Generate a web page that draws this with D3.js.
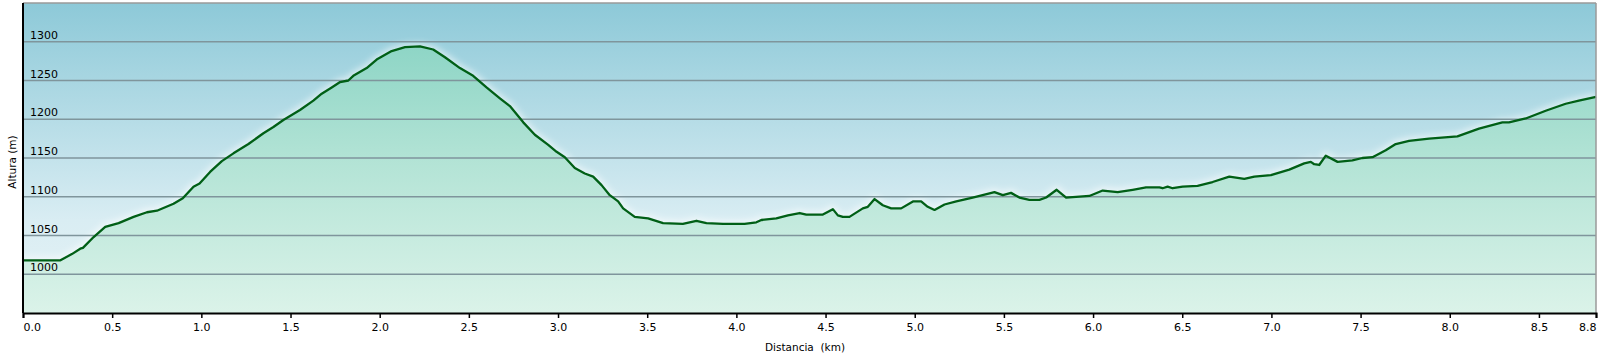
<!DOCTYPE html>
<html>
<head>
<meta charset="utf-8">
<script src="https://cdn.jsdelivr.net/npm/d3@7"></script>
<style>
  html, body { margin: 0; padding: 0; background: #fff; }
  svg { display: block; font-family: "DejaVu Sans", Verdana, sans-serif; }
</style>
</head>
<body>
<div id="chart"></div>
<script>
"use strict";

// perfil: distancia (km) / altura (m)
var distancia = [
  0, 0.21, 0.274, 0.321, 0.336, 0.396, 0.461, 0.536, 0.62, 0.695, 0.751, 0.844, 0.896, 0.956, 0.99,
  1.049, 1.115, 1.18, 1.264, 1.348, 1.404, 1.46, 1.553, 1.628, 1.675, 1.731, 1.778, 1.824, 1.852, 1.927, 1.983,
  2.067, 2.142, 2.226, 2.3, 2.366, 2.45, 2.524, 2.599, 2.674, 2.73, 2.805, 2.87, 2.945, 2.992,
  3.038, 3.094, 3.15, 3.197, 3.244, 3.29, 3.337, 3.365, 3.43, 3.505, 3.589, 3.70, 3.776, 3.832, 3.925,
  4.046, 4.112, 4.14, 4.224, 4.289, 4.355, 4.392, 4.485, 4.541, 4.569, 4.597, 4.634, 4.709, 4.737, 4.775, 4.821, 4.868, 4.924, 4.99,
  5.036, 5.073, 5.111, 5.167, 5.233, 5.325, 5.447, 5.494, 5.54, 5.587, 5.643, 5.699, 5.737, 5.796, 5.849, 5.979,
  6.054, 6.138, 6.222, 6.297, 6.372, 6.39, 6.418, 6.446, 6.502, 6.586, 6.67, 6.764, 6.848, 6.904, 6.997,
  7.1, 7.184, 7.221, 7.24, 7.268, 7.305, 7.371, 7.454, 7.51, 7.567, 7.641, 7.697, 7.772, 7.884,
  8.043, 8.164, 8.295, 8.332, 8.426, 8.538, 8.65, 8.724, 8.82
];
var altura = [
  1018, 1018, 1026, 1033, 1034, 1048, 1061, 1066, 1074, 1080, 1082, 1091, 1098, 1113, 1117,
  1132, 1146, 1156, 1168, 1182, 1190, 1199, 1212, 1224, 1233, 1241, 1248, 1250, 1256, 1266, 1277,
  1288, 1293, 1294, 1290, 1280, 1266, 1256, 1241, 1227, 1217, 1196, 1180, 1167, 1158,
  1151, 1137, 1130, 1126, 1115, 1102, 1094, 1085, 1074, 1072, 1066, 1065, 1069, 1066, 1065,
  1065, 1067, 1070, 1072, 1076, 1079, 1077, 1077, 1084, 1076, 1074, 1074, 1085, 1087, 1097, 1089, 1085, 1085, 1094,
  1094, 1087, 1083, 1090, 1094, 1099, 1106, 1102, 1105, 1099, 1096, 1096, 1099, 1109, 1099, 1101,
  1108, 1106, 1109, 1112, 1112, 1111, 1113, 1111, 1113, 1114, 1119, 1126, 1123, 1126, 1128,
  1135, 1143, 1145, 1142, 1141, 1153, 1145, 1147, 1150, 1151, 1160, 1168, 1172, 1175,
  1178, 1188, 1196, 1196, 1201, 1211, 1220, 1224, 1229
];
var distTicks = [0, 0.5, 1, 1.5, 2, 2.5, 3, 3.5, 4, 4.5, 5, 5.5, 6, 6.5, 7, 7.5, 8, 8.5, 8.82];
var altTicks = [1000, 1050, 1100, 1150, 1200, 1250, 1300];
var altDomain = [950, 1350];

var width = 1599;
var height = 360;
var margin = {top: 3, right: 3, bottom: 47, left: 23};
var innerW = width - margin.left - margin.right;
var innerH = height - margin.top - margin.bottom;

var data = distancia.map(function(d, i) { return {km: d, m: altura[i]}; });

var x = d3.scaleLinear().domain([0, d3.max(distancia)]).range([0, innerW]);
var y = d3.scaleLinear().domain(altDomain).range([innerH, 0]);

var svg = d3.select("#chart").append("svg")
  .attr("width", width)
  .attr("height", height);

var defs = svg.append("defs");

var sky = defs.append("linearGradient")
  .attr("id", "sky").attr("x1", 0).attr("y1", 0).attr("x2", 0).attr("y2", 1);
sky.append("stop").attr("offset", "0%").attr("stop-color", "#8dc9d8");
sky.append("stop").attr("offset", "70%").attr("stop-color", "#d9edf3");
sky.append("stop").attr("offset", "100%").attr("stop-color", "#e6f3f5");

var ground = defs.append("linearGradient")
  .attr("id", "ground").attr("gradientUnits", "userSpaceOnUse")
  .attr("x1", 0).attr("y1", 0).attr("x2", 0).attr("y2", innerH);
ground.append("stop").attr("offset", "0%").attr("stop-color", "#80d0c0");
ground.append("stop").attr("offset", "50%").attr("stop-color", "#b2e3d5");
ground.append("stop").attr("offset", "100%").attr("stop-color", "#dbf3e9");

var glow = defs.append("filter").attr("id", "glow")
  .attr("x", "-5%").attr("y", "-20%").attr("width", "110%").attr("height", "140%");
glow.append("feGaussianBlur").attr("stdDeviation", 3);

var g = svg.append("g")
  .attr("transform", "translate(" + margin.left + "," + margin.top + ")");

g.append("rect")
  .attr("width", innerW).attr("height", innerH)
  .attr("fill", "url(#sky)");

var area = d3.area()
  .x(function(d) { return x(d.km); })
  .y0(innerH)
  .y1(function(d) { return y(d.m); });

var line = d3.line()
  .x(function(d) { return x(d.km); })
  .y(function(d) { return y(d.m); });

g.append("path")
  .datum(data)
  .attr("d", line)
  .attr("fill", "none")
  .attr("stroke", "#ffffff")
  .attr("stroke-opacity", 0.6)
  .attr("stroke-width", 7)
  .attr("filter", "url(#glow)");

g.append("path")
  .datum(data)
  .attr("d", area)
  .attr("fill", "url(#ground)");

// rejilla
g.append("g")
  .selectAll("line")
  .data(altTicks)
  .enter().append("line")
  .attr("x1", 0).attr("x2", innerW)
  .attr("y1", function(d) { return y(d); })
  .attr("y2", function(d) { return y(d); })
  .attr("stroke", "#7f959c")
  .attr("stroke-width", 1.4);

g.append("g")
  .selectAll("text")
  .data(altTicks)
  .enter().append("text")
  .attr("x", 7)
  .attr("y", function(d) { return y(d) - 3; })
  .attr("font-size", 11)
  .attr("fill", "#000")
  .text(function(d) { return d; });

g.append("path")
  .datum(data)
  .attr("d", line)
  .attr("fill", "none")
  .attr("stroke", "#005f16")
  .attr("stroke-width", 2.3)
  .attr("stroke-linejoin", "round");

// marco
g.append("line")
  .attr("x1", 0).attr("x2", innerW).attr("y1", 0).attr("y2", 0)
  .attr("stroke", "#9a9a9a").attr("stroke-width", 1.5);
g.append("line")
  .attr("x1", innerW).attr("x2", innerW).attr("y1", 0).attr("y2", innerH)
  .attr("stroke", "#9a9a9a").attr("stroke-width", 1.5);
g.append("line")
  .attr("x1", 0).attr("x2", 0).attr("y1", 0).attr("y2", innerH)
  .attr("stroke", "#000").attr("stroke-width", 2);

var xAxis = d3.axisBottom(x)
  .tickValues(distTicks)
  .tickSize(5)
  .tickFormat(d3.format(".1f"));

var ax = g.append("g")
  .attr("transform", "translate(0," + innerH + ")")
  .call(xAxis);
ax.select(".domain").attr("stroke", "#000").attr("stroke-width", 2);
ax.selectAll(".tick line").attr("stroke", "#000").attr("stroke-width", 1.5);
ax.selectAll(".tick text")
  .attr("font-size", 11)
  .attr("font-family", "DejaVu Sans, Verdana, sans-serif")
  .attr("fill", "#000")
  .attr("y", 10)
  .attr("text-anchor", function(d, i) {
    return i === 0 ? "start" : (i === distTicks.length - 1 ? "end" : "middle");
  });

svg.append("text")
  .attr("transform", "translate(16," + (margin.top + 159) + ") rotate(-90)")
  .attr("text-anchor", "middle")
  .attr("font-size", 10.5)
  .attr("fill", "#000")
  .text("Altura (m)");

svg.append("text")
  .attr("x", 805)
  .attr("y", 351)
  .attr("text-anchor", "middle")
  .attr("font-size", 10.5)
  .attr("fill", "#000")
  .attr("xml:space", "preserve")
  .style("white-space", "pre")
  .text("Distancia  (km)");
</script>
</body>
</html>
